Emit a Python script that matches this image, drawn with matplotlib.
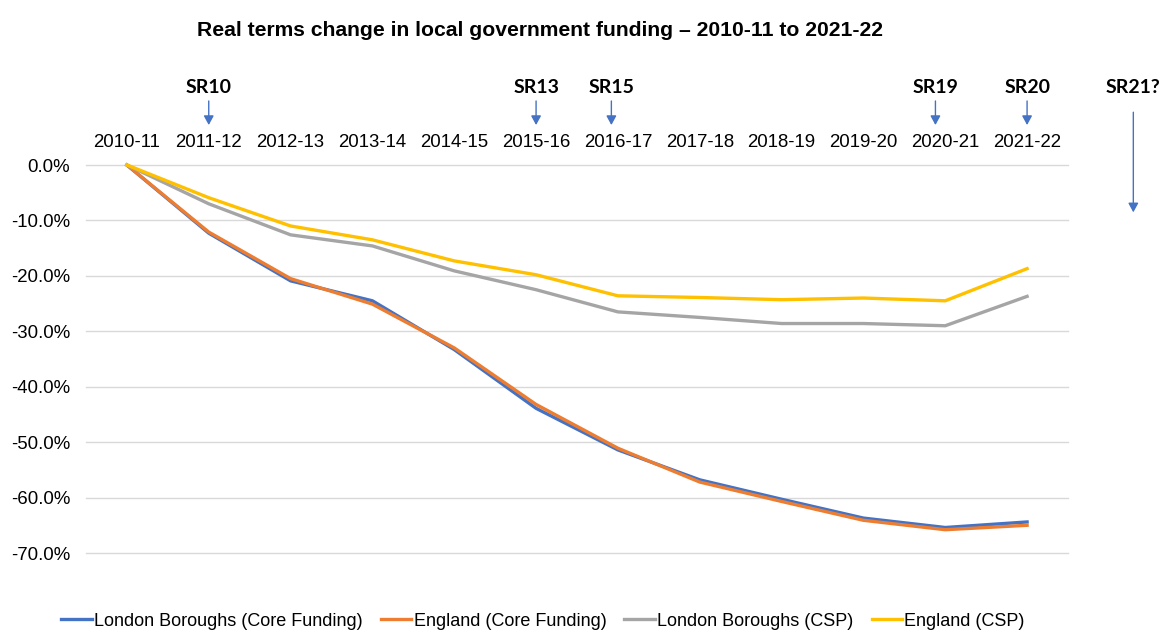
import matplotlib
matplotlib.use("Agg")
import matplotlib.pyplot as plt
from matplotlib.transforms import blended_transform_factory

years = ["2010-11", "2011-12", "2012-13", "2013-14", "2014-15", "2015-16",
         "2016-17", "2017-18", "2018-19", "2019-20", "2020-21", "2021-22"]
london_core = [0.0, -12.3, -20.9, -24.5, -33.3, -43.9, -51.4, -56.8, -60.3, -63.7, -65.4, -64.4]
england_core = [0.0, -12.1, -20.5, -25.1, -33.0, -43.2, -51.1, -57.2, -60.7, -64.1, -65.8, -65.0]
london_csp = [0.0, -7.0, -12.6, -14.6, -19.1, -22.5, -26.5, -27.5, -28.6, -28.6, -29.0, -23.7]
england_csp = [0.0, -5.9, -11.0, -13.5, -17.3, -19.8, -23.6, -23.9, -24.3, -24.0, -24.5, -18.7]
series_names = ["London Boroughs (Core Funding)", "England (Core Funding)",
                "London Boroughs (CSP)", "England (CSP)"]
colors = ["#4472C4", "#ED7D31", "#A5A5A5", "#FFC000"]
yticks = [0, -10, -20, -30, -40, -50, -60, -70]

sr_labels = ["SR10", "SR13", "SR15", "SR19", "SR20"]
sr_pos = [1, 5, 6, 10, 11]
sr_offsets = [0.0, 0.0, -0.08, -0.12, 0.0]

fig = plt.figure(figsize=(11.62, 6.3), dpi=100)
ax = fig.add_axes([86/1162, 1-553/630, (1068-86)/1162, (553-165)/630])

x = list(range(len(years)))
for vals, name, c in zip([london_core, england_core, london_csp, england_csp], series_names, colors):
    ax.plot(x, vals, color=c, lw=2.4, label=name, clip_on=False, solid_joinstyle="round")

ax.set_xlim(-0.5, len(years) - 0.5)
ax.set_ylim(-70, 0)
ax.set_yticks(yticks)
ax.set_yticklabels([f"{v:.1f}%" for v in yticks], fontsize=13.4, family="Liberation Sans")
ax.set_xticks(x)
ax.set_xticklabels(years, fontsize=13.4, family="Liberation Sans")
ax.xaxis.tick_top()
ax.tick_params(axis="x", length=0, pad=10.4)
ax.tick_params(axis="y", length=0, pad=11.5)
ax.grid(axis="y", color="#D9D9D9", lw=1)
for gl in ax.get_ygridlines():
    gl.set_clip_on(False)
ax.set_axisbelow(True)
for s in ax.spines.values():
    s.set_visible(False)

trans = blended_transform_factory(ax.transData, ax.transAxes)
arrow_col = "#4472C4"
astyle = "-|>,head_length=0.55,head_width=0.3"
for lab, p, off in zip(sr_labels, sr_pos, sr_offsets):
    ax.text(p + off, 1.201, lab, transform=trans, ha="center", va="center",
            fontsize=14, fontweight="bold", family="Lato", clip_on=False)
    ax.annotate("", xy=(p + off, 1.103), xytext=(p + off, 1.165), xycoords=trans, textcoords=trans,
                arrowprops=dict(arrowstyle=astyle, color=arrow_col, lw=1, shrinkA=0, shrinkB=0),
                annotation_clip=False)
x21 = (1133 - 127) / 81.8
ax.text(x21, 1.201, "SR21?", transform=trans, ha="center", va="center",
        fontsize=14, fontweight="bold", family="Lato", clip_on=False)
ax.annotate("", xy=(x21, 0.878), xytext=(x21, 1.136), xycoords=trans, textcoords=trans,
            arrowprops=dict(arrowstyle=astyle, color=arrow_col, lw=1, shrinkA=0, shrinkB=0),
            annotation_clip=False)

fig.text(540/1162, 1-30/630, "Real terms change in local government funding \u2013 2010-11 to 2021-22",
         ha="center", va="center", fontsize=15.2, fontweight="bold", family="Liberation Sans")

fig.legend(loc="center", bbox_to_anchor=(543/1162, 9/630), ncol=4, frameon=False,
           prop={"family": "Liberation Sans", "size": 13}, handlelength=1.7,
           handletextpad=0.12, columnspacing=1.0, borderaxespad=0)

fig.savefig("out.png", dpi=100, facecolor="white")
